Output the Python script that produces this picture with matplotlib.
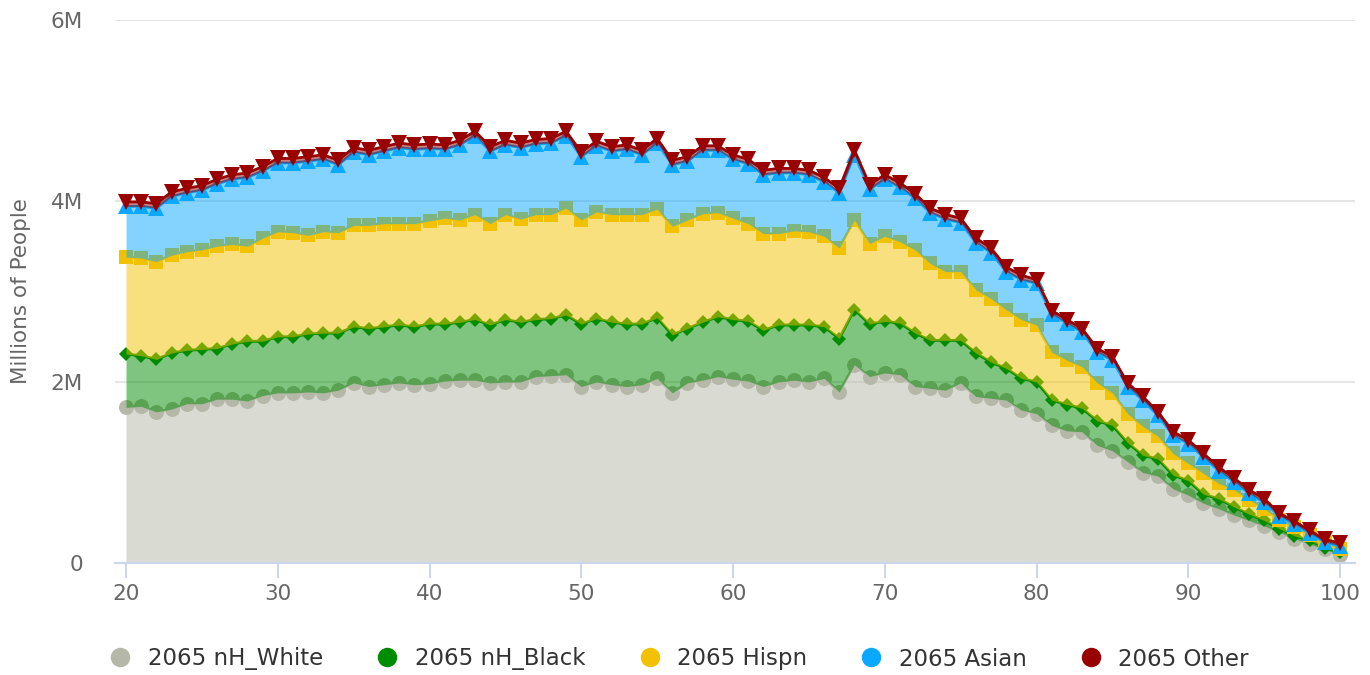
import numpy as np
import matplotlib
matplotlib.use("Agg")
import matplotlib.pyplot as plt
from matplotlib.lines import Line2D
from matplotlib.ticker import FuncFormatter

# ================= DATA =================
ages = list(range(20, 101))

white = [1.72, 1.73, 1.67, 1.70, 1.76, 1.76, 1.81, 1.81, 1.79, 1.85,
         1.88, 1.88, 1.89, 1.88, 1.91, 1.99, 1.95, 1.97, 1.99, 1.97,
         1.98, 2.01, 2.02, 2.02, 1.99, 2.00, 2.00, 2.06, 2.07, 2.08,
         1.95, 2.00, 1.97, 1.95, 1.97, 2.04, 1.88, 1.99, 2.02, 2.06,
         2.03, 2.01, 1.95, 2.00, 2.02, 2.00, 2.04, 1.89, 2.19, 2.06,
         2.10, 2.08, 1.95, 1.93, 1.91, 1.99, 1.84, 1.82, 1.80, 1.69,
         1.65, 1.52, 1.46, 1.45, 1.30, 1.24, 1.12, 1.00, 0.96, 0.82,
         0.75, 0.66, 0.60, 0.53, 0.47, 0.41, 0.34, 0.27, 0.21, 0.15,
         0.09]

black = [0.59, 0.56, 0.58, 0.62, 0.59, 0.60, 0.56, 0.61, 0.66, 0.60,
         0.62, 0.62, 0.64, 0.66, 0.63, 0.62, 0.64, 0.64, 0.64, 0.64,
         0.66, 0.63, 0.64, 0.67, 0.64, 0.69, 0.66, 0.63, 0.63, 0.66,
         0.69, 0.70, 0.69, 0.69, 0.67, 0.67, 0.64, 0.60, 0.64, 0.66,
         0.66, 0.66, 0.62, 0.63, 0.61, 0.63, 0.57, 0.59, 0.61, 0.58,
         0.57, 0.57, 0.59, 0.53, 0.55, 0.47, 0.48, 0.40, 0.35, 0.35,
         0.35, 0.28, 0.29, 0.26, 0.27, 0.28, 0.21, 0.19, 0.19, 0.15,
         0.16, 0.10, 0.11, 0.09, 0.07, 0.06, 0.04, 0.03, 0.04, 0.02,
         0.03]

hispanic = [1.07, 1.08, 1.08, 1.08, 1.09, 1.10, 1.13, 1.10, 1.05, 1.14,
            1.16, 1.15, 1.09, 1.12, 1.11, 1.12, 1.14, 1.14, 1.12, 1.14,
            1.14, 1.17, 1.13, 1.16, 1.12, 1.16, 1.14, 1.16, 1.15, 1.18,
            1.15, 1.18, 1.19, 1.21, 1.21, 1.20, 1.20, 1.20, 1.20, 1.15,
            1.12, 1.08, 1.07, 1.01, 1.04, 1.03, 1.00, 1.00, 0.99, 0.89,
            0.94, 0.90, 0.92, 0.85, 0.76, 0.76, 0.70, 0.70, 0.65, 0.65,
            0.63, 0.53, 0.49, 0.46, 0.42, 0.36, 0.32, 0.32, 0.25, 0.24,
            0.19, 0.23, 0.17, 0.19, 0.16, 0.13, 0.10, 0.10, 0.06, 0.05,
            0.04]

asian = [0.56, 0.57, 0.59, 0.65, 0.65, 0.66, 0.69, 0.72, 0.76, 0.74,
         0.76, 0.77, 0.82, 0.80, 0.75, 0.81, 0.78, 0.80, 0.84, 0.82,
         0.80, 0.76, 0.83, 0.87, 0.80, 0.77, 0.79, 0.78, 0.79, 0.80,
         0.70, 0.73, 0.70, 0.72, 0.66, 0.73, 0.68, 0.65, 0.70, 0.69,
         0.65, 0.66, 0.65, 0.67, 0.64, 0.63, 0.60, 0.61, 0.72, 0.60,
         0.63, 0.60, 0.57, 0.56, 0.58, 0.54, 0.52, 0.51, 0.42, 0.44,
         0.46, 0.42, 0.41, 0.38, 0.34, 0.36, 0.30, 0.29, 0.23, 0.20,
         0.22, 0.18, 0.14, 0.09, 0.07, 0.07, 0.04, 0.03, 0.02, 0.01,
         0.03]

other = [0.05] * 60 + [0.04] * 16 + [0.03] * 5

series_names = ["2065 nH_White", "2065 nH_Black", "2065 Hispn", "2065 Asian", "2065 Other"]
series_values = [white, black, hispanic, asian, other]
colors = ["#b5b8a8", "#008c00", "#f2c200", "#0aa8ff", "#990000"]
markers = ["o", "D", "s", "^", "v"]
marker_sizes = [10.8, 7.6, 10.0, 11.5, 11.5]

# ================= PLOT =================
fig = plt.figure(figsize=(13.7, 6.75), dpi=100)
ax = fig.add_axes([115 / 1370, 1 - 563 / 675, 1240 / 1370, 543 / 675])

x = np.array(ages)
base = np.zeros(len(x))
for i, (name, vals, c, m, ms) in enumerate(zip(series_names, series_values,
                                              colors, markers, marker_sizes)):
    top = base + np.array(vals)
    ax.fill_between(x, base, top, color=c, alpha=0.5, lw=0, zorder=2 + 2 * i)
    ax.plot(x, top, color=c, lw=2, marker=m, markersize=ms,
            markeredgewidth=0, zorder=3 + 2 * i)
    base = top

ax.set_xlim(20 - 11 * 80 / 1214, 100 + 15 * 80 / 1214)
ax.set_ylim(0, 6)
ax.set_yticks([0, 2, 4, 6])
ax.yaxis.set_major_formatter(FuncFormatter(lambda v, p: "0" if v == 0 else f"{v:.0f}M"))
ax.set_xticks([20, 30, 40, 50, 60, 70, 80, 90, 100])

ax.grid(axis="y", color="#e6e6e6", lw=1.4, zorder=0)
ax.set_axisbelow(True)
for s in ["top", "right", "left"]:
    ax.spines[s].set_visible(False)
ax.spines["bottom"].set_color("#ccd6eb")
ax.spines["bottom"].set_linewidth(1.5)
ax.spines["bottom"].set_zorder(20)

ax.tick_params(axis="y", length=0, pad=23, labelsize=15.5, labelcolor="#666666")
ax.tick_params(axis="x", length=11, width=1.4, color="#ccd6eb", pad=4,
               labelsize=15.5, labelcolor="#666666")

ax.set_ylabel("Millions of People", fontsize=15.5, color="#666666")
ax.yaxis.set_label_coords(-84 / 1240, 0.5)

handles = [Line2D([], [], ls="none", marker="o", markersize=14,
                  markerfacecolor=c, markeredgewidth=0) for c in colors]
fig.legend(handles, series_names, loc="center", bbox_to_anchor=(0.4956, 1 - 659 / 675),
           ncol=5, frameon=False, fontsize=16.5, labelcolor="#333333",
           handlelength=1.0, handletextpad=0.7, columnspacing=2.3)

fig.savefig("out.png", dpi=100)
